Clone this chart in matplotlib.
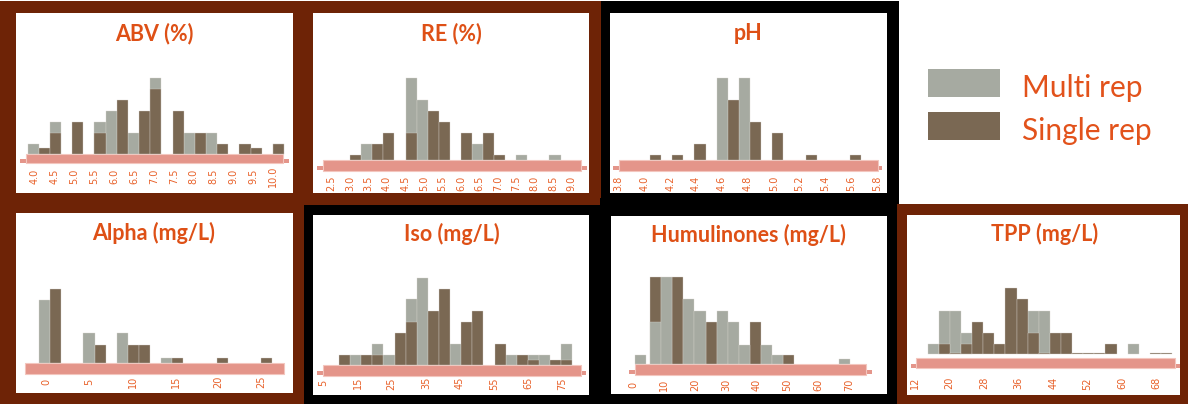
import numpy as np
import matplotlib.pyplot as plt
from matplotlib.patches import Rectangle

W, H = 1188, 404
MULTI = '#a6aaa1'
SINGLE = '#7a6853'
BAND = '#e4958a'
RUST = '#6e2306'
ORANGE = '#de5016'

# bar heights per bin (multi rep / single rep)
abv_start, abv_width = 3.83, 0.28
abv_multi = [0.85, 0, 2.9, 0, 0, 0, 2.9, 3.9, 0, 1.9, 0, 6.9, 0, 0, 1.9, 0, 1.9, 0, 0, 0, 0, 0, 0.85]
abv_single = [0, 0.5, 1.9, 0, 2.9, 0, 1.9, 0, 4.9, 0, 3.9, 5.9, 0, 3.9, 0, 1.9, 0, 0.85, 0, 0.85, 0.5, 0, 0.85]
abv_ticks = [4.0, 4.5, 5.0, 5.5, 6.0, 6.5, 7.0, 7.5, 8.0, 8.5, 9.0, 9.5, 10.0]

re_start, re_width = 3.0, 0.3
re_multi = [0, 1.45, 0, 0, 0, 7.5, 5.5, 0, 0, 0, 0, 1.45, 0, 0, 0, 0.5, 0, 0, 0.5]
re_single = [0.5, 0, 1.45, 2.5, 0, 2.5, 0, 4.5, 3.5, 0, 2.5, 0, 2.5, 0.5, 0, 0, 0, 0, 0]
re_ticks = [2.5, 3.0, 3.5, 4.0, 4.5, 5.0, 5.5, 6.0, 6.5, 7.0, 7.5, 8.0, 8.5, 9.0]

ph_start, ph_width = 4.045, 0.0858
ph_multi = [0, 0, 0, 0, 0, 0, 7.5, 0, 7.5, 0, 0, 0, 0, 0, 0, 0, 0, 0, 0]
ph_single = [0.5, 0, 0.5, 0, 1.45, 0, 0, 5.5, 0, 3.5, 0, 2.5, 0, 0, 0.5, 0, 0, 0, 0.5]
ph_ticks = [3.8, 4.0, 4.2, 4.4, 4.6, 4.8, 5.0, 5.2, 5.4, 5.6, 5.8]

alpha_start, alpha_width = -0.89, 1.292
alpha_multi = [5.8, 0, 0, 0, 2.8, 0, 0, 2.8, 0, 0, 0, 0.5, 0, 0, 0, 0, 0, 0, 0, 0, 0, 0]
alpha_single = [0, 6.8, 0, 0, 0, 1.7, 0, 0, 1.7, 1.7, 0, 0, 0.5, 0, 0, 0, 0.5, 0, 0, 0, 0.5, 0]
alpha_ticks = [0, 5, 10, 15, 20, 25]

iso_start, iso_width = 9.59, 3.25
iso_multi = [0, 0.9, 0, 1.9, 0.9, 0, 6.0, 7.9, 0, 0, 1.9, 0, 0, 0, 0, 0.9, 0, 0.9, 0.9, 0, 1.9]
iso_single = [0.9, 0, 0.9, 0.9, 0, 2.9, 3.9, 0, 4.9, 6.9, 0, 3.9, 4.9, 0, 1.9, 0, 0.9, 0.45, 0, 0.45, 0.45]
iso_ticks = [5, 15, 25, 35, 45, 55, 65, 75]

hum_start, hum_width = 5.4, 3.6
hum_multi = [3.85, 7.9, 0, 5.9, 4.85, 0, 4.85, 3.85, 1.8, 0, 1.8, 0.85, 0, 0, 0, 0, 0, 0.45]
hum_single = [7.9, 0, 7.9, 0, 0, 3.85, 0, 0, 0, 3.85, 0, 0, 0.85, 0, 0, 0, 0, 0]
hum_low_left, hum_low_multi = 0.54, 0.85
hum_ticks = [0, 10, 20, 30, 40, 50, 60, 70]

tpp_start, tpp_width = 14.94, 2.574
tpp_multi = [0.9, 3.9, 3.9, 1.9, 0, 0, 0, 0, 0, 3.9, 3.9, 0, 0, 0, 0, 0, 0, 0, 0.9, 0, 0, 0]
tpp_single = [0, 0.9, 0.15, 0.9, 2.9, 1.9, 0.9, 6.0, 5.0, 1.9, 0.15, 1.9, 1.9, 0.15, 0.15, 0.15, 0.9, 0, 0, 0, 0.15, 0.15]
tpp_ticks = [12, 20, 28, 36, 44, 52, 60, 68]

# layout in pixels: frame, white box, title (x, baseline), x map (value, px, px/unit),
# bar base line, thick band, thin band, tick label centre
panels = [
    dict(title='ABV (%)', frame=(0, 1, 303, 205), fcol=RUST, box=(16, 13, 293, 193), tx=(154.5, 40),
         xmap=(4.0, 34.33, 39.83), base=153.7, band=(26, 153.7, 283.3, 163.3), thin=(20, 159.3, 289.3, 163.3),
         lab=176, bins=(abv_start, abv_width), multi=abv_multi, single=abv_single,
         ticks=abv_ticks, fmt='{:.1f}'),
    dict(title='RE (%)', frame=(300, 1, 601, 205), fcol=RUST, box=(313, 13, 589, 193), tx=(451, 40),
         xmap=(2.5, 331.67, 36.92), base=160.3, band=(322.7, 160.3, 580.7, 170.7), thin=(316.7, 165.7, 586.7, 170),
         lab=183.3, bins=(re_start, re_width), multi=re_multi, single=re_single,
         ticks=re_ticks, fmt='{:.1f}'),
    dict(title='pH', frame=(601, 1, 899, 205), fcol='black', box=(610, 13, 887, 193), tx=(748, 40),
         xmap=(3.8, 618.3, 129.5), base=160.3, band=(619.3, 160.3, 877.7, 170.7), thin=(613.3, 165.7, 882, 170),
         lab=183.3, bins=(ph_start, ph_width), multi=ph_multi, single=ph_single,
         ticks=ph_ticks, fmt='{:.1f}'),
    dict(title='Alpha (mg/L)', frame=(0, 195, 305, 404), fcol=RUST, box=(16, 213, 293, 393), tx=(154, 240),
         xmap=(0, 46.67, 8.6), base=363.3, band=(25, 363.3, 284, 374.3), thin=None,
         lab=381.7, bins=(alpha_start, alpha_width), multi=alpha_multi, single=alpha_single,
         ticks=alpha_ticks, fmt='{:d}'),
    dict(title='Iso (mg/L)', frame=(304, 205, 611, 404), fcol='black', box=(313, 215, 589, 395), tx=(451.7, 240.7),
         xmap=(5, 323.3, 3.419), base=365, band=(322.7, 365, 580.7, 375.7), thin=(316.7, 370.7, 586, 375),
         lab=383.3, bins=(iso_start, iso_width), multi=iso_multi, single=iso_single,
         ticks=iso_ticks, fmt='{:d}'),
    dict(title='Humulinones (mg/L)', frame=(600, 198, 898, 404), fcol='black', box=(611, 216, 887, 394), tx=(748, 241.7),
         xmap=(0, 633.3, 3.086), base=364.3, band=(635, 364.3, 865.7, 375), thin=(629.3, 370, 871.7, 374.3),
         lab=385, bins=(hum_start, hum_width), multi=hum_multi, single=hum_single,
         ticks=hum_ticks, fmt='{:d}', multi_on_top=True),
    dict(title='TPP (mg/L)', frame=(897, 204, 1188, 404), fcol=RUST, box=(907, 215, 1180, 395), tx=(1045, 240.7),
         xmap=(12, 915, 4.316), base=354.3, band=(916, 358.3, 1175, 368.3), thin=(910.7, 364, 1180, 367.7),
         lab=383.3, bins=(tpp_start, tpp_width), multi=tpp_multi, single=tpp_single,
         ticks=tpp_ticks, fmt='{:d}'),
]

fig = plt.figure(figsize=(W / 100, H / 100), dpi=100)
bg = fig.add_axes([0, 0, 1, 1])
bg.set_xlim(0, W)
bg.set_ylim(H, 0)
bg.axis('off')


def rect(x0, y0, x1, y1, **kw):
    bg.add_patch(Rectangle((x0, y0), x1 - x0, y1 - y0, **kw))


for p in panels:
    rect(*p['frame'], color=p['fcol'], lw=0)
for p in panels:
    rect(*p['box'], color='white', lw=0)

EDGE = dict(edgecolor='#d9d5cf', lw=0.25)

for p in panels:
    if p['thin']:
        rect(*p['thin'], facecolor=BAND, edgecolor='none')
    rect(*p['band'], facecolor=BAND, edgecolor='#f3c6be', lw=0.8)
    bg.text(p['tx'][0], p['tx'][1], p['title'], ha='center', va='baseline',
            fontsize=15.5, fontweight='bold', family='Lato', color=ORANGE)

    L, T, R, B = p['box']
    bottom = p['band'][3]
    v0, p0, ppu = p['xmap']
    ax = fig.add_axes([L / W, 1 - bottom / H, (R - L) / W, (bottom - T) / H])
    ax.set_xlim(v0 + (L - p0) / ppu, v0 + (R - p0) / ppu)
    ax.set_ylim(-(bottom - p['base']) / 11, (p['base'] - T) / 11)
    ax.patch.set_visible(False)
    for s in ax.spines.values():
        s.set_visible(False)
    ax.set_yticks([])

    start, width = p['bins']
    edges = start + width * np.arange(len(p['multi']))
    m = np.array(p['multi'])
    s_ = np.array(p['single'])
    zm, zs = (3, 2) if p.get('multi_on_top') else (2, 3)
    ax.bar(edges[m > 0], m[m > 0], width, align='edge', color=MULTI, zorder=zm, **EDGE)
    ax.bar(edges[s_ > 0], s_[s_ > 0], width, align='edge', color=SINGLE, zorder=zs, **EDGE)
    if p['title'].startswith('Humulinones'):
        ax.bar([hum_low_left], [hum_low_multi], width, align='edge', color=MULTI,
               zorder=zm, **EDGE)

    ax.set_xticks(p['ticks'], [p['fmt'].format(t) for t in p['ticks']])
    ax.tick_params(axis='x', length=0, pad=(p['lab'] - bottom) * 0.72,
                   labelsize=7, labelcolor='#e8612a')
    plt.setp(ax.get_xticklabels(), rotation=90, va='center', ha='center')

# legend
rect(928, 69, 1000, 97, color=MULTI, lw=0)
rect(928, 112, 1000, 140, color=SINGLE, lw=0)
bg.text(1021.7, 96.7, 'Multi rep', va='baseline', ha='left', fontsize=21.5,
        family='Lato', color='#e2521b')
bg.text(1021.7, 140, 'Single rep', va='baseline', ha='left', fontsize=21.5,
        family='Lato', color='#e2521b')

fig.savefig('out.png', dpi=100)
